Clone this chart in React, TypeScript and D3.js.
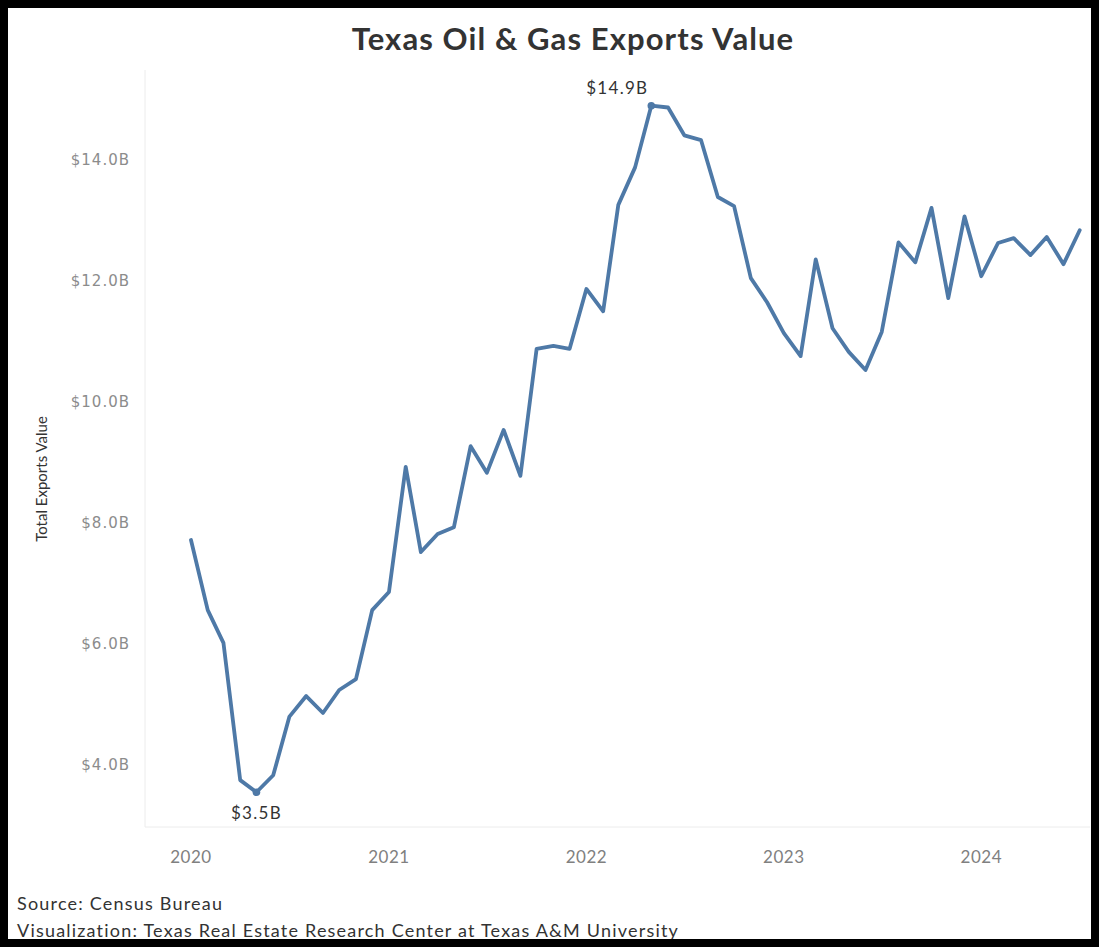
import * as d3 from "d3";
import React, { useEffect, useRef } from "react";

// monthly values, Jan 2020 .. Jul 2024 (billions USD)
const startYear = 2020;
const exportValues: number[] = [
  7.72, 6.56, 6.02, 3.75, 3.55, 3.83, 4.8, 5.14, 4.86, 5.24, 5.42, 6.56,
  6.86, 8.93, 7.52, 7.82, 7.93, 9.27, 8.83, 9.54, 8.78, 10.88, 10.93, 10.88,
  11.87, 11.5, 13.26, 13.88, 14.9, 14.87, 14.41, 14.33, 13.39, 13.24, 12.05, 11.65,
  11.14, 10.76, 12.36, 11.22, 10.83, 10.53, 11.16, 12.64, 12.31, 13.21, 11.72, 13.07,
  12.08, 12.63, 12.71, 12.43, 12.73, 12.28, 12.84,
];
const yTicks = [4, 6, 8, 10, 12, 14];
const xTickYears = [2020, 2021, 2022, 2023, 2024];
const annotations = [
  { index: 28, label: "$14.9B", dx: -34, dy: -12 },
  { index: 4, label: "$3.5B", dx: 0, dy: 27 },
];

const CONFIG = {
  width: 1099,
  height: 949,
  left: 145,
  right: 1090,
  top: 70,
  bottom: 827,
  lineColor: "#4e79a7",
  font: "Lato, 'Open Sans', sans-serif",
};

const ExportsChart: React.FC = () => {
  const svgRef = useRef<SVGSVGElement>(null);

  useEffect(() => {
    const svg = d3.select(svgRef.current);
    svg.selectAll("*").remove();

    const points = exportValues.map((v, i) => ({
      date: new Date(startYear, i, 1),
      value: v,
    }));

    const x = d3
      .scaleTime()
      .domain([new Date(2019, 9, 8), new Date(2024, 6, 20)])
      .range([CONFIG.left, CONFIG.right]);
    const y = d3
      .scaleLinear()
      .domain([2.975, 15.49])
      .range([CONFIG.bottom, CONFIG.top]);

    svg
      .append("rect")
      .attr("width", CONFIG.width)
      .attr("height", CONFIG.height)
      .attr("fill", "white");

    // title
    svg
      .append("text")
      .attr("x", 573)
      .attr("y", 50)
      .attr("text-anchor", "middle")
      .attr("font-family", CONFIG.font)
      .attr("font-weight", 700)
      .attr("font-size", 31)
      .attr("letter-spacing", 1.1)
      .attr("fill", "#333333")
      .text("Texas Oil & Gas Exports Value");

    // axis lines
    svg
      .append("line")
      .attr("x1", CONFIG.left)
      .attr("x2", CONFIG.left)
      .attr("y1", CONFIG.top)
      .attr("y2", CONFIG.bottom)
      .attr("stroke", "#ececec");
    svg
      .append("line")
      .attr("x1", CONFIG.left)
      .attr("x2", CONFIG.right)
      .attr("y1", CONFIG.bottom)
      .attr("y2", CONFIG.bottom)
      .attr("stroke", "#ececec");

    // y ticks
    svg
      .append("g")
      .selectAll("text")
      .data(yTicks)
      .enter()
      .append("text")
      .attr("x", 130)
      .attr("y", (d: number) => y(d))
      .attr("dy", "0.35em")
      .attr("text-anchor", "end")
      .attr("font-family", "'DejaVu Sans', sans-serif")
      .attr("font-size", 15)
      .attr("letter-spacing", 1)
      .attr("fill", "#8c8c8c")
      .text((d: number) => `$${d.toFixed(1)}B`);

    // x ticks
    svg
      .append("g")
      .selectAll("text")
      .data(xTickYears)
      .enter()
      .append("text")
      .attr("x", (d: number) => x(new Date(d, 0, 1)))
      .attr("y", 857)
      .attr("dy", "0.35em")
      .attr("text-anchor", "middle")
      .attr("font-family", CONFIG.font)
      .attr("font-size", 17)
      .attr("letter-spacing", 0.5)
      .attr("fill", "#808080")
      .text((d: number) => String(d));

    // y axis title
    svg
      .append("text")
      .attr("transform", `translate(47, 479) rotate(-90)`)
      .attr("text-anchor", "middle")
      .attr("font-family", CONFIG.font)
      .attr("font-size", 15)
      .attr("fill", "#333333")
      .text("Total Exports Value");

    const line = d3
      .line<{ date: Date; value: number }>()
      .x((d) => x(d.date))
      .y((d) => y(d.value));

    svg
      .append("path")
      .datum(points)
      .attr("d", line)
      .attr("fill", "none")
      .attr("stroke", CONFIG.lineColor)
      .attr("stroke-width", 3.8)
      .attr("stroke-linejoin", "round")
      .attr("stroke-linecap", "round");

    annotations.forEach((a) => {
      const p = points[a.index];
      svg
        .append("circle")
        .attr("cx", x(p.date))
        .attr("cy", y(p.value))
        .attr("r", 3.8)
        .attr("fill", CONFIG.lineColor);
      svg
        .append("text")
        .attr("x", x(p.date) + a.dx)
        .attr("y", y(p.value) + a.dy)
        .attr("text-anchor", "middle")
        .attr("font-family", CONFIG.font)
        .attr("font-size", 17)
        .attr("letter-spacing", 1.3)
        .attr("fill", "#333333")
        .text(a.label);
    });

    // footer
    svg
      .append("text")
      .attr("x", 17)
      .attr("y", 910)
      .attr("font-family", CONFIG.font)
      .attr("font-size", 18)
      .attr("letter-spacing", 1.2)
      .attr("fill", "#333333")
      .text("Source: Census Bureau");
    svg
      .append("text")
      .attr("x", 17)
      .attr("y", 937)
      .attr("font-family", CONFIG.font)
      .attr("font-size", 18)
      .attr("letter-spacing", 1.2)
      .attr("fill", "#333333")
      .text("Visualization: Texas Real Estate Research Center at Texas A&M University");

    // black frame
    svg
      .append("rect")
      .attr("x", 4)
      .attr("y", 4)
      .attr("width", CONFIG.width - 8)
      .attr("height", CONFIG.height - 10)
      .attr("fill", "none")
      .attr("stroke", "black")
      .attr("stroke-width", 8);
  }, []);

  return <svg ref={svgRef} width={CONFIG.width} height={CONFIG.height} />;
};

export default function App() {
  return (
    <div style={{ position: "absolute", left: 0, top: 0 }}>
      <ExportsChart />
    </div>
  );
}
